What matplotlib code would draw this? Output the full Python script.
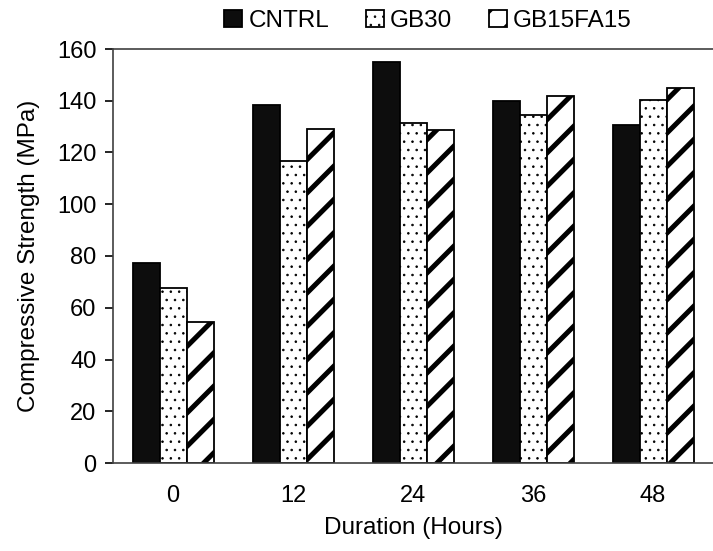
import matplotlib
matplotlib.use("Agg")
import matplotlib.pyplot as plt
import numpy as np

plt.rcParams['font.family'] = ['Liberation Sans', 'DejaVu Sans']

categories = ["0", "12", "24", "36", "48"]
series_names = ["CNTRL", "GB30", "GB15FA15"]
cntrl = [77.4, 138.4, 155.1, 139.9, 130.5]
gb30 = [67.5, 116.6, 131.5, 134.4, 140.3]
gb15fa15 = [54.6, 129.0, 128.7, 141.7, 144.9]
yticks = [0, 20, 40, 60, 80, 100, 120, 140, 160]

fig = plt.figure(figsize=(7.13, 5.51), dpi=100)
ax = fig.add_axes([113/713, 1-463/551, 600/713, 414/551])

x = np.arange(len(categories))
w = 0.225
styles = [dict(facecolor='#0d0d0d', edgecolor='black', hatch=None),
          dict(facecolor='white', edgecolor='black', hatch='..'),
          dict(facecolor='white', edgecolor='black', hatch='/')]
hlw = [1.0, 0.6, 3.6]
for i, (vals, name, st) in enumerate(zip([cntrl, gb30, gb15fa15], series_names, styles)):
    with plt.rc_context({'hatch.linewidth': hlw[i]}):
        bars = ax.bar(x + (i - 1) * w, vals, width=w, label=name, linewidth=1.3, **st)
    for b in bars:
        if hasattr(b, 'set_hatch_linewidth'):
            b.set_hatch_linewidth(hlw[i])

ax.set_xlim(-0.5, len(categories) - 0.5)
ax.set_ylim(0, 160)
ax.set_yticks(yticks)
ax.set_xticks(x)
ax.set_xticklabels(categories)
ax.tick_params(axis='y', direction='out', length=6, width=1.2, labelsize=17, colors='black', pad=6)
ax.tick_params(axis='x', length=0, labelsize=17, pad=16)
for s in ['left', 'bottom', 'top']:
    ax.spines[s].set_color('#404040')
    ax.spines[s].set_linewidth(1.2)
ax.spines['right'].set_visible(False)

ax.set_xlabel('Duration (Hours)', fontsize=17.5, labelpad=7)
ax.set_ylabel('Compressive Strength (MPa)', fontsize=17.5, labelpad=12)

leg = ax.legend(loc='lower center', bbox_to_anchor=(0.525, 1.0), ncol=3, frameon=False,
          fontsize=17.5, handlelength=0.75, handleheight=0.75, handletextpad=0.25,
          columnspacing=1.5, borderaxespad=0.3)
for h, lw in zip(leg.legend_handles, hlw):
    if hasattr(h, 'set_hatch_linewidth'):
        h.set_hatch_linewidth(lw)

fig.savefig('out.png', dpi=100)
